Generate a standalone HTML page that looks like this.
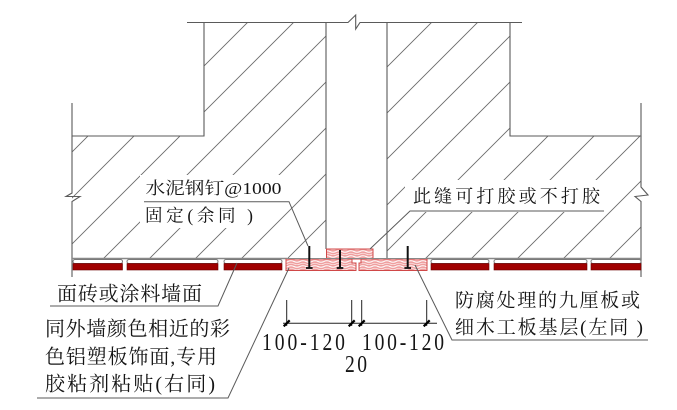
<!DOCTYPE html>
<html><head><meta charset="utf-8"><style>
html,body{margin:0;padding:0;background:#fff;}
svg{display:block;}
text{font-family:"Liberation Serif","Noto Serif CJK SC",serif;fill:#151515;}
</style></head><body>
<svg width="677" height="410" viewBox="0 0 677 410" xmlns="http://www.w3.org/2000/svg">
<defs>
<clipPath id="walls">
<polygon points="72,136 204,136 204,23 326,23 326,259 72,259"/>
<polygon points="387,23 510,23 510,136 641,136 641,259 387,259"/>
</clipPath>
<pattern id="wood" width="12" height="5" patternUnits="userSpaceOnUse">
<rect width="12" height="5" fill="#ef9f9f"/>
<path d="M0 1.5 Q3 0 6 1.5 T12 1.5" fill="none" stroke="#fff" stroke-width="1.1"/>
<path d="M0 4 Q3 2.5 6 4 T12 4" fill="none" stroke="#fbe6e6" stroke-width="0.8"/>
</pattern>
</defs>
<rect width="677" height="410" fill="#fff"/>

<!-- hatch -->
<g clip-path="url(#walls)" stroke="#6a6a6a" stroke-width="0.9">
<line x1="132" y1="0" x2="-168" y2="300"/>
<line x1="178" y1="0" x2="-122" y2="300"/>
<line x1="224" y1="0" x2="-76" y2="300"/>
<line x1="270" y1="0" x2="-30" y2="300"/>
<line x1="316" y1="0" x2="16" y2="300"/>
<line x1="362" y1="0" x2="62" y2="300"/>
<line x1="408" y1="0" x2="108" y2="300"/>
<line x1="454" y1="0" x2="154" y2="300"/>
<line x1="500" y1="0" x2="200" y2="300"/>
<line x1="546" y1="0" x2="246" y2="300"/>
<line x1="592" y1="0" x2="292" y2="300"/>
<line x1="638" y1="0" x2="338" y2="300"/>
<line x1="684" y1="0" x2="384" y2="300"/>
<line x1="730" y1="0" x2="430" y2="300"/>
<line x1="776" y1="0" x2="476" y2="300"/>
<line x1="822" y1="0" x2="522" y2="300"/>
<line x1="868" y1="0" x2="568" y2="300"/>
<line x1="914" y1="0" x2="614" y2="300"/>
<line x1="960" y1="0" x2="660" y2="300"/>
</g>

<!-- white boxes behind labels -->
<rect x="140" y="175" width="152" height="28" fill="#fff"/>
<rect x="140" y="203" width="118" height="25" fill="#fff"/>
<rect x="405" y="180" width="202" height="32" fill="#fff"/>

<!-- wall outlines -->
<g stroke="#5a5a5a" stroke-width="1.1" fill="none">
<polyline points="187,22.5 348,22.5 355.7,15 355.7,29 360,22.5 522,22.5"/>
<polyline points="72,103 72,136 204,136 204,22.5"/>
<polyline points="72,136 72,193 66,196.5 80,196.5 72,201.5 72,277"/>
<line x1="326" y1="22.5" x2="326" y2="249"/>
<line x1="387" y1="22.5" x2="387" y2="259"/>
<polyline points="510,22.5 510,136 641,136 641,103"/>
<polyline points="641,136 641,187 648,195 635,196.5 641,201.5 641,277"/>
<line x1="72" y1="258.5" x2="287" y2="258.5" stroke="#888" stroke-width="1.6"/>
<line x1="426" y1="258.5" x2="641" y2="258.5" stroke="#888" stroke-width="1.6"/>
</g>

<!-- cladding panels -->
<g>
<g fill="#fff" stroke="#7a7a7a" stroke-width="1">
<rect x="73" y="259.5" width="49.5" height="4" rx="2"/>
<rect x="127" y="259.5" width="91" height="4" rx="2"/>
<rect x="224" y="259.5" width="58" height="4" rx="2"/>
<rect x="431" y="259.5" width="58" height="4" rx="2"/>
<rect x="494" y="259.5" width="93" height="4" rx="2"/>
<rect x="591" y="259.5" width="50" height="4" rx="2"/>
</g>
<g fill="#a00000" stroke="#6a0000" stroke-width="0.6">
<rect x="73" y="263.5" width="49.5" height="6.5"/>
<rect x="127" y="263.5" width="91" height="6.5"/>
<rect x="224" y="263.5" width="58" height="6.5"/>
<rect x="431" y="263.5" width="58" height="6.5"/>
<rect x="494" y="263.5" width="93" height="6.5"/>
<rect x="591" y="263.5" width="50" height="6.5"/>
</g>
</g>

<!-- wood base boards -->
<g fill="url(#wood)" stroke="#d04848" stroke-width="1">
<rect x="326.5" y="249" width="46.5" height="10"/>
<polygon points="286,259 352,259 352,263 356,263 356,270.5 286,270.5"/>
<polygon points="361,259 427,259 427,270.5 359,270.5 359,263 361,263"/>
</g>
<line x1="286" y1="258.5" x2="427" y2="258.5" stroke="#888" stroke-width="1"/>

<!-- nails -->
<g stroke="#111" stroke-width="2">
<line x1="309.3" y1="246" x2="309.3" y2="268"/>
<line x1="340" y1="250" x2="340" y2="268"/>
<line x1="407.7" y1="246" x2="407.7" y2="268"/>
<line x1="306" y1="268" x2="312.6" y2="268" stroke-width="1.8"/>
<line x1="336.7" y1="268" x2="343.3" y2="268" stroke-width="1.8"/>
<line x1="404.4" y1="268" x2="411" y2="268" stroke-width="1.8"/>
</g>

<!-- leaders -->
<g stroke="#5a5a5a" stroke-width="1" fill="none">
<polyline points="144,201.7 289,201.7 308,246"/>
<polyline points="604,211 410,211 370,249"/>
<polyline points="50,306 218,306 237,263"/>
<polyline points="37,398 228,398 289,268"/>
<polyline points="648,340 452,340 415,265"/>
</g>

<!-- dimensions -->
<g stroke="#222" stroke-width="1">
<line x1="283" y1="323.3" x2="437" y2="323.3"/>
<line x1="286.7" y1="300" x2="286.7" y2="326"/>
<line x1="351.7" y1="300" x2="351.7" y2="326"/>
<line x1="361.7" y1="300" x2="361.7" y2="326"/>
<line x1="426.7" y1="300" x2="426.7" y2="326"/>
</g>
<g stroke="#000" stroke-width="2.2">
<line x1="283.7" y1="326.3" x2="289.7" y2="320.3"/>
<line x1="348.7" y1="326.3" x2="354.7" y2="320.3"/>
<line x1="358.7" y1="326.3" x2="364.7" y2="320.3"/>
<line x1="423.7" y1="326.3" x2="429.7" y2="320.3"/>
</g>

<!-- labels -->
<text x="145.5" y="194" font-size="17" textLength="136" lengthAdjust="spacingAndGlyphs">水泥钢钉@1000</text>
<text x="145" y="221.5" font-size="17.5" textLength="108" lengthAdjust="spacing">固定(余同 )</text>
<text x="413" y="202.5" font-size="18" textLength="187" lengthAdjust="spacing">此缝可打胶或不打胶</text>
<text x="57" y="300.5" font-size="20" textLength="145" lengthAdjust="spacing">面砖或涂料墙面</text>
<text x="45" y="335.5" font-size="20" textLength="185" lengthAdjust="spacing">同外墙颜色相近的彩</text>
<text x="45" y="363.5" font-size="20" textLength="172" lengthAdjust="spacing">色铝塑板饰面,专用</text>
<text x="45" y="390.5" font-size="20" textLength="170" lengthAdjust="spacing">胶粘剂粘贴(右同)</text>
<text x="455" y="306.5" font-size="19" textLength="185" lengthAdjust="spacing">防腐处理的九厘板或</text>
<text x="455" y="333.5" font-size="19" textLength="188" lengthAdjust="spacing">细木工板基层(左同 )</text>
<g transform="scale(0.8 1)">
<text x="327.5" y="350" font-size="24.5" textLength="103.75" lengthAdjust="spacing">100-120</text>
<text x="452.5" y="350" font-size="24.5" textLength="102.5" lengthAdjust="spacing">100-120</text>
<text x="431.25" y="372" font-size="24.5" textLength="27.5" lengthAdjust="spacing">20</text>
</g>
</svg>
</body></html>
